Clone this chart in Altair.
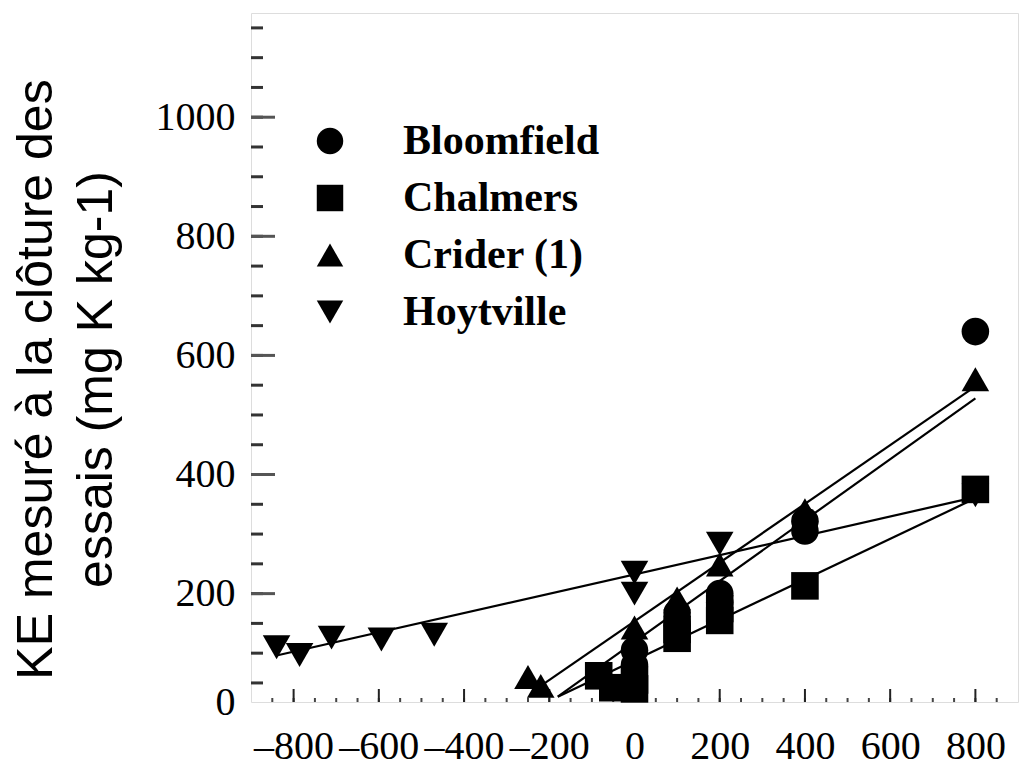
import altair as alt
import pandas as pd

# ---- data ----
series_names = ["Bloomfield", "Chalmers", "Crider (1)", "Hoytville"]
series_shapes = ["circle", "square", "triangle-up", "triangle-down"]

bloom_x = [0, 0, 100, 100, 200, 200, 400, 400, 800]
bloom_y = [80, 105, 150, 168, 185, 200, 305, 322, 640]

chal_x = [-84, -51, 0, 0, 100, 100, 200, 200, 400, 800]
chal_y = [62, 42, 55, 40, 125, 140, 155, 175, 213, 375]

crid_x = [-250, -220, 0, 100, 200, 400, 800]
crid_y = [60, 45, 143, 192, 249, 340, 560]

hoyt_x = [-840, -786, -711, -594, -470, 0, 0, 200, 800]
hoyt_y = [110, 97, 126, 123, 131, 235, 200, 284, 365]

# fitted lines (end points)
fit_bloom_x = [-180, 800]
fit_bloom_y = [27, 528]
fit_chal_x = [-180, 800]
fit_chal_y = [27, 360]
fit_crid_x = [-220, 800]
fit_crid_y = [45, 548]
fit_hoyt_x = [-840, 800]
fit_hoyt_y = [96, 362]

x_tick_values = [-800, -600, -400, -200, 0, 200, 400, 600, 800]
x_minor_values = list(range(-850, 900, 50))
y_tick_values = [18, 200, 400, 600, 800, 1000]
y_tick_labels = ["0", "200", "400", "600", "800", "1000"]
y_minor_values = list(range(50, 1175, 50))

title_lines = ["KE mesuré à la clôture des", "essais  (mg K kg-1)"]

# ---- tables ----
pts_rows = []
for name, xs, ys in zip(series_names, [bloom_x, chal_x, crid_x, hoyt_x],
                        [bloom_y, chal_y, crid_y, hoyt_y]):
    for a, b in zip(xs, ys):
        pts_rows.append({"site": name, "x": a, "y": b})
pts = pd.DataFrame(pts_rows)

line_rows = []
for name, xs, ys in zip(series_names, [fit_bloom_x, fit_chal_x, fit_crid_x, fit_hoyt_x],
                        [fit_bloom_y, fit_chal_y, fit_crid_y, fit_hoyt_y]):
    for i, (a, b) in enumerate(zip(xs, ys)):
        line_rows.append({"site": name, "x": a, "y": b, "o": i})
lines = pd.DataFrame(line_rows)

W, H = 767, 689
x_scale = alt.Scale(domain=[-900, 900], nice=False, zero=False)
y_scale = alt.Scale(domain=[18, 1175], nice=False, zero=False)

label_map = "{" + ",".join(f"'{v}':'{l}'" for v, l in zip(y_tick_values, y_tick_labels)) + "}"

x_axis = alt.Axis(values=x_tick_values, title=None, grid=False, domain=False, ticks=False,
                  labelExpr="replace(datum.label, '\u2212', '\u2013')",
                  labelFont="Liberation Serif", labelFontSize=40, labelColor="black",
                  labelPadding=24, labelFlush=False, labelOverlap=False)
y_axis = alt.Axis(values=y_tick_values, title=title_lines, grid=False, domain=False, ticks=False,
                  labelExpr=f"{label_map}[''+datum.value]",
                  labelFont="Liberation Serif", labelFontSize=40, labelColor="black",
                  labelPadding=16, labelFlush=False, labelOverlap=False,
                  titleFont="Liberation Sans", titleFontSize=50, titleFontWeight="normal",
                  titleColor="black", titleLineHeight=60, titleAngle=270,
                  titleAlign="center", titleBaseline="top", titleX=-240, titleY=366)

base_lines = alt.Chart(lines).mark_line(color="black", strokeWidth=2.2).encode(
    x=alt.X("x:Q", scale=x_scale, axis=x_axis),
    y=alt.Y("y:Q", scale=y_scale, axis=y_axis),
    detail="site:N",
    order="o:Q",
)

points = alt.Chart(pts).mark_point(filled=True, size=760, opacity=1, color="black",
                                   strokeWidth=0).encode(
    x=alt.X("x:Q", scale=x_scale),
    y=alt.Y("y:Q", scale=y_scale),
    shape=alt.Shape("site:N",
                    scale=alt.Scale(domain=series_names, range=series_shapes),
                    legend=alt.Legend(title=None, orient="none", legendX=58, legendY=107,
                                      padding=0, labelFont="Liberation Serif",
                                      labelFontWeight="bold", labelFontSize=42,
                                      labelColor="black", labelOffset=52,
                                      symbolSize=700, symbolFillColor="black",
                                      symbolStrokeColor="black", symbolStrokeWidth=0,
                                      rowPadding=15, labelLimit=400)),
)

ymaj = pd.DataFrame({"v": [v for v in y_tick_values[1:]]})
ymin = pd.DataFrame({"v": y_minor_values})
xmaj = pd.DataFrame({"v": x_tick_values})
xmin = pd.DataFrame({"v": x_minor_values})

y_major_ticks = alt.Chart(ymaj).mark_rule(color="#555", strokeWidth=3).encode(
    y=alt.Y("v:Q", scale=y_scale), x=alt.value(0), x2=alt.value(24))
y_minor_ticks = alt.Chart(ymin).mark_rule(color="#333", strokeWidth=3).encode(
    y=alt.Y("v:Q", scale=y_scale), x=alt.value(0), x2=alt.value(12))
x_major_ticks = alt.Chart(xmaj).mark_rule(color="#222", strokeWidth=2).encode(
    x=alt.X("v:Q", scale=x_scale), y=alt.value(H), y2=alt.value(H - 13))
x_minor_ticks = alt.Chart(xmin).mark_rule(color="#444", strokeWidth=2).encode(
    x=alt.X("v:Q", scale=x_scale), y=alt.value(H), y2=alt.value(H - 4))

chart = alt.layer(base_lines, y_minor_ticks, y_major_ticks, x_minor_ticks, x_major_ticks,
                  points).properties(
    width=W, height=H,
    autosize=alt.AutoSizeParams(type="none"),
    padding={"left": 251, "top": 13, "right": 2, "bottom": 65},
).configure_view(stroke="#444", strokeWidth=3).configure(background="white")

chart.save("out.html", embed_options={"renderer": "svg", "actions": False})
